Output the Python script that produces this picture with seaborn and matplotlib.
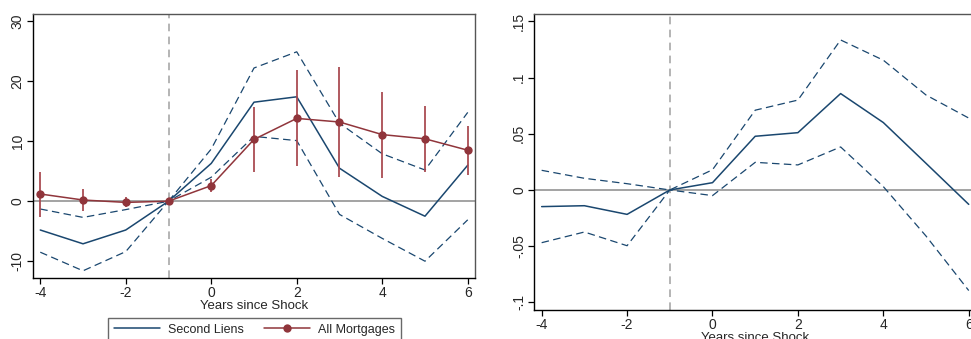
import numpy as np
import pandas as pd
import matplotlib
matplotlib.use("Agg")
import matplotlib.pyplot as plt
import seaborn as sns

# Event-time grid
years = [-4, -3, -2, -1, 0, 1, 2, 3, 4, 5, 6]

# Panel A: second liens (point estimate and 95% bounds)
liens_est = [-4.8, -7.1, -4.8, 0.0, 6.3, 16.5, 17.4, 5.5, 0.8, -2.5, 6.0]
liens_hi = [-1.3, -2.7, -1.4, 0.0, 8.7, 22.2, 24.9, 13.0, 7.9, 5.2, 14.8]
liens_lo = [-8.5, -11.6, -8.4, 0.0, 4.0, 10.8, 10.1, -2.2, -6.2, -10.0, -3.1]

# Panel A: all mortgages (point estimate and 95% bounds)
mort_est = [1.2, 0.2, -0.2, 0.0, 2.6, 10.3, 13.8, 13.2, 11.1, 10.4, 8.5]
mort_hi = [4.8, 2.0, 0.7, 0.0, 3.7, 15.7, 21.8, 22.4, 18.2, 15.8, 12.6]
mort_lo = [-2.6, -1.6, -1.0, 0.0, 1.5, 4.9, 5.8, 4.1, 3.8, 4.9, 4.4]

# Panel B: share outcome (point estimate and 95% bounds)
share_est = [-0.0148, -0.014, -0.0217, 0.0, 0.0065, 0.0478, 0.051, 0.0858, 0.060, 0.0237, -0.0128]
share_hi = [0.0175, 0.0104, 0.0056, 0.0, 0.018, 0.071, 0.080, 0.1335, 0.1155, 0.0845, 0.0640]
share_lo = [-0.0469, -0.0374, -0.0496, 0.0, -0.005, 0.0246, 0.0223, 0.0383, 0.003, -0.041, -0.0895]

left_yticks = [-10, 0, 10, 20, 30]
left_yticklabels = ["-10", "0", "10", "20", "30"]
right_yticks = [-0.1, -0.05, 0, 0.05, 0.1, 0.15]
right_yticklabels = ["-.1", "-.05", "0", ".05", ".1", ".15"]
xticks = [-4, -2, 0, 2, 4, 6]
xlabel = "Years since Shock"
legend_labels = ["Second Liens", "All Mortgages"]

NAVY = "#1a476f"
MAROON = "#90353b"
ERR = "#a8474e"
GRID = "#8a8a8a"

sns.set_style("white")
plt.rcParams["font.family"] = ["Liberation Sans", "DejaVu Sans"]
plt.rcParams["font.size"] = 9.5

fig = plt.figure(figsize=(9.71, 3.39), dpi=100)
W, H = 971, 339


def px_axes(left, top, right, bottom):
    return fig.add_axes([left / W, 1 - bottom / H, (right - left) / W, (bottom - top) / H])


axA = px_axes(33, 14, 475, 278)
axB = px_axes(534.4, 14, 976, 310)

dfA = pd.DataFrame({"year": years, "est": liens_est, "hi": liens_hi, "lo": liens_lo,
                    "m_est": mort_est, "m_hi": mort_hi, "m_lo": mort_lo})
dfB = pd.DataFrame({"year": years, "est": share_est, "hi": share_hi, "lo": share_lo})

dash = (6, 3.5)


def reference_lines(ax):
    ax.axhline(0, color=GRID, lw=1.1, zorder=1)
    ax.axvline(-1, color="#a0a0a0", lw=1.1, ls=(0, (5, 3.5)), zorder=1)


def style_axes(ax, yt, ytl, ylim):
    ax.set_xlim(-4.17, 6.17)
    ax.set_ylim(*ylim)
    ax.set_xticks(xticks)
    ax.set_xticklabels([str(t) for t in xticks])
    ax.set_yticks(yt)
    ax.set_yticklabels(ytl, rotation=90, va="center")
    ax.tick_params(axis="both", direction="out", length=4, width=0.9, color="black",
                   labelsize=10, pad=2, left=True, bottom=True)
    ax.set_xlabel(xlabel, fontsize=9.5, labelpad=0)
    ax.set_ylabel("")
    for side in ["left", "bottom"]:
        ax.spines[side].set_color("black")
        ax.spines[side].set_linewidth(1.0)
    for side in ["top", "right"]:
        ax.spines[side].set_color("#555555")
        ax.spines[side].set_linewidth(1.0)


# Panel A
reference_lines(axA)
sns.lineplot(data=dfA, x="year", y="hi", ax=axA, color=NAVY, lw=0.9, zorder=3)
sns.lineplot(data=dfA, x="year", y="lo", ax=axA, color=NAVY, lw=0.9, zorder=3)
for ln in axA.lines[-2:]:
    ln.set_linestyle((0, dash))
sns.lineplot(data=dfA, x="year", y="est", ax=axA, color=NAVY, lw=1.1, zorder=3)
axA.vlines(dfA["year"], dfA["m_lo"], dfA["m_hi"], color=ERR, lw=1.4, alpha=0.9, zorder=4)
sns.lineplot(data=dfA, x="year", y="m_est", ax=axA, color=MAROON, lw=1.1, marker="o",
             markersize=6, markeredgewidth=0, zorder=5)
style_axes(axA, left_yticks, left_yticklabels, (-12.8, 31.2))

# Panel B
reference_lines(axB)
sns.lineplot(data=dfB, x="year", y="hi", ax=axB, color=NAVY, lw=0.9, zorder=3)
sns.lineplot(data=dfB, x="year", y="lo", ax=axB, color=NAVY, lw=0.9, zorder=3)
for ln in axB.lines[-2:]:
    ln.set_linestyle((0, dash))
sns.lineplot(data=dfB, x="year", y="est", ax=axB, color=NAVY, lw=1.1, zorder=3)
style_axes(axB, right_yticks, right_yticklabels, (-0.1068, 0.1566))

# Legend under panel A
h1 = plt.Line2D([], [], color=NAVY, lw=1.1)
h2 = plt.Line2D([], [], color=MAROON, lw=1.1, marker="o", markersize=6, markeredgewidth=0)
leg = fig.legend([h1, h2], legend_labels, loc="upper left",
                 bbox_to_anchor=(108 / W, 1 - 318 / H), ncol=2, frameon=True,
                 fancybox=False, edgecolor="#444444", fontsize=9,
                 handlelength=3.7, handletextpad=0.65, columnspacing=1.6,
                 borderpad=0.45, borderaxespad=0)
leg.get_frame().set_linewidth(1.0)

fig.savefig("out.png", dpi=100)
